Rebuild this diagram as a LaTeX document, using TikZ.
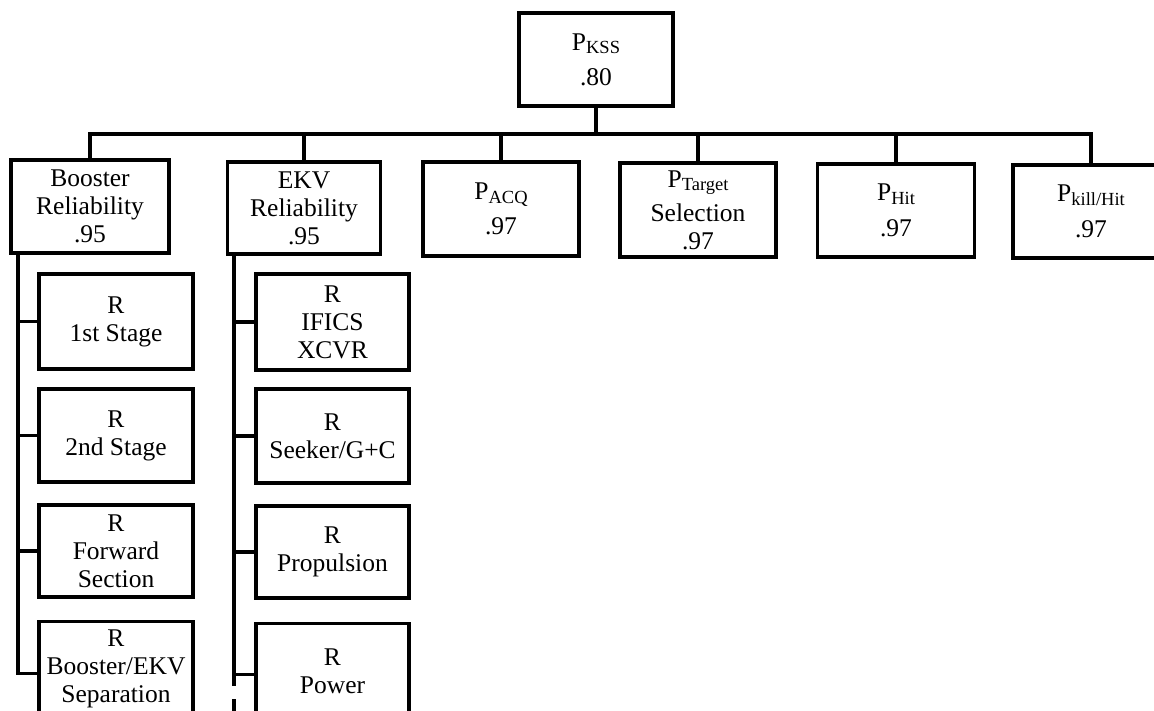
\documentclass[tikz,border=0pt]{standalone}
\usepackage{fontspec}
\setmainfont{Liberation Serif}
\newcommand{\sbs}[1]{\raisebox{-3.5pt}{\fontsize{18.5}{18.5}\selectfont #1}}
\tikzset{
  box/.style={draw, line width=3.2pt, inner sep=0pt, align=center,
    font=\fontsize{25.5}{28}\selectfont},
  topbox/.style={box, minimum width=154pt, minimum height=93pt},
  midbox/.style={box, minimum width=156pt, minimum height=93pt},
  subbox/.style={box, minimum width=154pt, minimum height=93pt},
  conn/.style={line width=3.2pt, line join=miter},
}
\begin{document}
\begin{tikzpicture}[x=1pt,y=-1pt]
\useasboundingbox (0,0) rectangle (1154,710);
\clip (0,0) rectangle (1154,710);
\fill[white] (0,0) rectangle (1154,710);

% top
\node[topbox] (kss) at (596,59.5) {P\sbs{KSS}\\[7pt].80};
\coordinate (bus) at (596,134);

% level 2
\node[midbox, minimum width=158pt] (booster) at (90,206.5) {Booster\\Reliability\\.95};
\node[midbox, minimum width=153pt, minimum height=92pt] (ekv) at (304,208) {EKV\\Reliability\\.95};
\node[midbox, minimum height=94pt] (acq) at (501,209) {P\sbs{ACQ}\\[7pt].97};
\node[midbox, minimum height=94pt] (target) at (698,210) {P\sbs{Target}\\[6pt]Selection\\.97};
\node[midbox, minimum width=157pt] (hit) at (896,210.5) {P\sbs{Hit}\\[8pt].97};
\node[midbox] (kill) at (1091,211.5) {P\sbs{kill/Hit}\\[8pt].97};

% level 3 booster
\coordinate (bsp) at (18,253);
\node[subbox, minimum height=95pt] (b1) at (116,321.5) {R\\1st Stage};
\node[subbox] (b2) at (116,435.5) {R\\2nd Stage};
\node[subbox, minimum height=92pt] (b3) at (116,551) {R\\Forward\\Section};
\node[subbox, minimum height=95pt, anchor=north] (b4) at (116,620) {R\\Booster/EKV\\Separation};

% level 3 EKV
\coordinate (esp) at (234,254);
\node[subbox, minimum width=153pt, minimum height=96pt] (e1) at (332.5,322) {R\\IFICS\\XCVR};
\node[subbox, minimum width=153pt, minimum height=94pt] (e2) at (332.5,436) {R\\Seeker/G+C};
\node[subbox, minimum width=153pt, minimum height=92pt] (e3) at (332.5,552) {R\\Propulsion};
\node[subbox, minimum width=153pt, minimum height=95pt, anchor=north] (e4) at (332.5,622) {R\\Power};
\coordinate (eend) at (234,712);

% connectors
\draw[conn] (kss.south) -- (bus);
\draw[conn] (booster.north) -- (booster.north |- bus) -- ([xshift=2pt]kill.north |- bus);
\draw[conn] (kill.north |- bus) -- (kill.north);
\foreach \n in {ekv,acq,target,hit}
  \draw[conn] (\n.north |- bus) -- (\n.north);

\draw[conn] (bsp) |- ([yshift=-4pt]b4.west);
\foreach \n in {b1,b2,b3}
  \draw[conn] (bsp |- \n.west) -- (\n.west);

\draw[conn] (esp) |- ([yshift=-3pt]e4.west);
\foreach \n in {e1,e2,e3}
  \draw[conn] (esp |- \n.west) -- (\n.west);
\draw[conn, dash pattern=on 12pt off 13pt] ([yshift=-3pt]esp |- e4.west) -- (eend);
\end{tikzpicture}
\end{document}
